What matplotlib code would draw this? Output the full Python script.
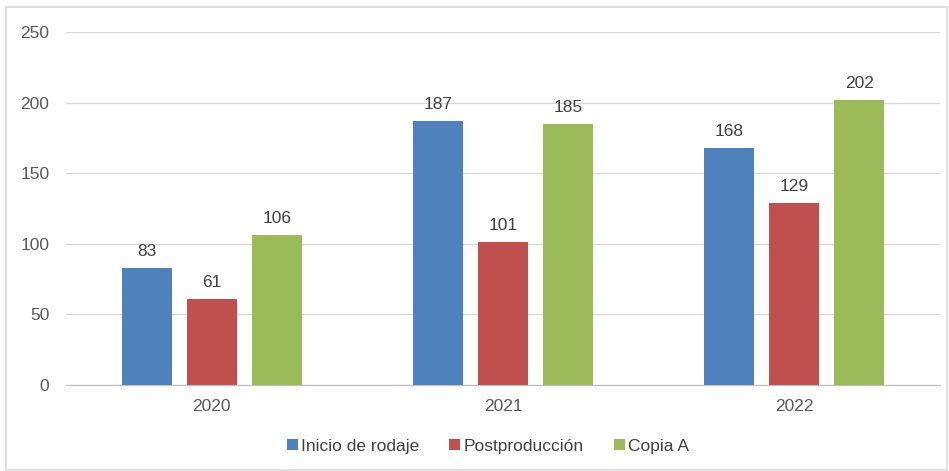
import matplotlib.pyplot as plt
import numpy as np
from matplotlib.patches import Rectangle

plt.rcParams['font.family'] = ['Liberation Sans', 'DejaVu Sans']

# data
years = ['2020', '2021', '2022']
series = ['Inicio de rodaje', 'Postproducción', 'Copia A']
inicio = [83, 187, 168]
post = [61, 101, 129]
copia = [106, 185, 202]
colors = ['#4F81BD', '#C0504D', '#9BBB59']

W, H = 949, 471
fig = plt.figure(figsize=(W / 100, H / 100), dpi=100)
ax = fig.add_axes([66 / W, 1 - 385 / H, (940 - 66) / W, (385 - 32) / H])

# outer chart frame
fig.patches.append(Rectangle((6 / W, 1 / H), (W - 8) / W, 1 - 8 / H,
                             transform=fig.transFigure, fill=False,
                             edgecolor='#D9D9D9', linewidth=1.2))

x = np.arange(len(years))
bw = 0.172
off = 0.223
for i, (vals, name) in enumerate(zip([inicio, post, copia], series)):
    bars = ax.bar(x + (i - 1) * off, vals, bw, color=colors[i], label=name, zorder=3)
    for b, v in zip(bars, vals):
        ax.annotate(str(v), (b.get_x() + b.get_width() / 2, v),
                    xytext=(0, 6.5), textcoords='offset points',
                    ha='center', va='bottom', fontsize=12.5, color='#404040')

ax.set_xlim(-0.5, 2.5)
ax.set_ylim(0, 250)
ax.set_yticks(range(0, 251, 50))
ax.set_xticks(x)
ax.set_xticklabels(years)
ax.grid(axis='y', color='#D9D9D9', linewidth=1, zorder=0)
ax.tick_params(axis='both', length=0, labelsize=12.5, labelcolor='#595959')
ax.tick_params(axis='y', pad=12)
ax.tick_params(axis='x', pad=10)
for s in ['left', 'right', 'top']:
    ax.spines[s].set_visible(False)
ax.spines['bottom'].set_color('#BFBFBF')
ax.spines['bottom'].set_zorder(4)

fig.legend(loc='center', bbox_to_anchor=(488 / W, 1 - 446 / H), ncol=3,
           frameon=False, fontsize=12.5, handlelength=0.65, handleheight=0.65,
           handletextpad=0.2, columnspacing=1.7, labelcolor='#404040')

fig.savefig('out.png', dpi=100)
